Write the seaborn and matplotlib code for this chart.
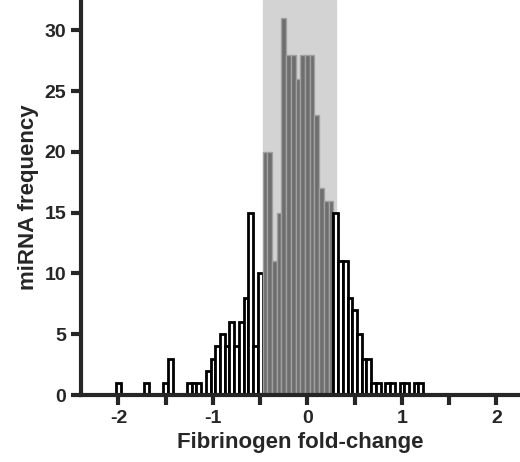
import numpy as np
import seaborn as sns
from matplotlib import pyplot as plt

sns.set_style("ticks")
plt.rcParams['font.family'] = ['Liberation Sans', 'DejaVu Sans']

centers = [-2.0, -1.7, -1.5, -1.45, -1.25, -1.2, -1.15,
           -1.05, -1.0, -0.95, -0.9, -0.85, -0.8, -0.75, -0.7, -0.65, -0.6, -0.55,
           -0.5, -0.45, -0.4, -0.35, -0.3, -0.25, -0.2, -0.15, -0.1, -0.05,
           0.0, 0.05, 0.1, 0.15, 0.2, 0.25, 0.3, 0.35, 0.4, 0.45, 0.5, 0.55,
           0.6, 0.65, 0.7, 0.75, 0.85, 0.9, 1.0, 1.05, 1.15, 1.2]
counts = [1, 1, 1, 3, 1, 1, 1,
          2, 3, 4, 5, 4, 6, 4, 6, 8, 15, 4,
          10, 20, 20, 11, 15, 31, 28, 28, 26, 28,
          28, 28, 23, 17, 16, 16, 15, 11, 11, 8, 7, 5,
          3, 3, 1, 1, 1, 1, 1, 1, 1, 1]
band = (-0.47, 0.3)

fig, ax = plt.subplots(figsize=(5.2, 4.62), dpi=100)
ax.axvspan(*band, color='#d3d3d3', zorder=0)

inside = [band[0] <= c < band[1] for c in centers]
for c, n, ins in zip(centers, counts, inside):
    ax.bar(c, n, width=0.05,
           color='#6e6e6e' if ins else 'white',
           edgecolor='#a0a0a0' if ins else 'black',
           linewidth=1.0 if ins else 2.0, zorder=2)

ax.set_xlim(-2.4, 2.25)
ax.set_ylim(0, 32.5)
ax.set_xticks(np.arange(-2, 2.01, 0.5))
ax.set_xticklabels(['-2', '', '-1', '', '0', '', '1', '', '2'])
ax.set_yticks(range(0, 31, 5))
ax.tick_params(width=3, length=7, labelsize=14, direction='out')
for lab in ax.get_xticklabels() + ax.get_yticklabels():
    lab.set_fontweight('bold')
for s in ['left', 'bottom']:
    ax.spines[s].set_linewidth(3)
sns.despine(ax=ax)
ax.set_xlabel("Fibrinogen fold-change", fontsize=16, fontweight='bold')
ax.set_ylabel("miRNA frequency", fontsize=16, fontweight='bold')
fig.subplots_adjust(left=0.155, right=1.0, top=1.0, bottom=0.145)
fig.savefig("out.png")
